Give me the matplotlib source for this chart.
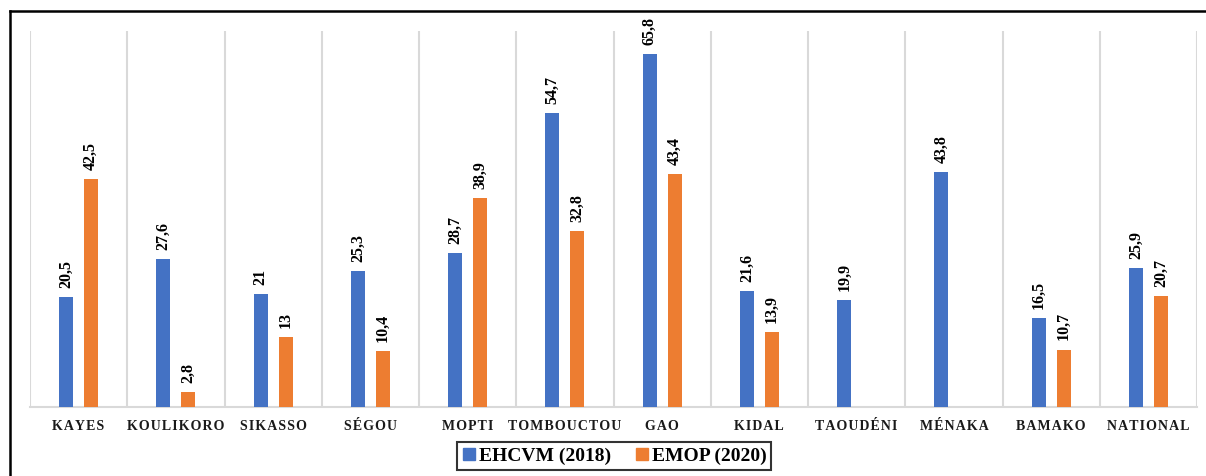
import numpy as np
import matplotlib.pyplot as plt
from matplotlib.lines import Line2D

# Taux par région, deux enquêtes
regions = ['KAYES', 'KOULIKORO', 'SIKASSO', 'SÉGOU', 'MOPTI', 'TOMBOUCTOU',
           'GAO', 'KIDAL', 'TAOUDÉNI', 'MÉNAKA', 'BAMAKO', 'NATIONAL']
ehcvm_2018 = [20.5, 27.6, 21, 25.3, 28.7, 54.7, 65.8, 21.6, 19.9, 43.8, 16.5, 25.9]
emop_2020 = [42.5, 2.8, 13, 10.4, 38.9, 32.8, 43.4, 13.9, None, None, 10.7, 20.7]

blue = '#4472C4'
orange = '#ED7D31'
grid_col = '#d9d9d9'


def fmt(v):
    s = f'{v:g}'
    return s.replace('.', ',')


def spaced(word):
    # petit espacement entre les lettres
    return '\u200a'.join(word)


fig = plt.figure(figsize=(12.06, 4.76), dpi=100)
ax = fig.add_axes([30 / 1206, 1 - 407 / 476, 1167 / 1206, 376 / 476])

x = np.arange(len(regions))
w = 0.145
off = 0.128

for xi, v in zip(x, ehcvm_2018):
    ax.bar(xi - off, v, width=w, color=blue, zorder=3)
    ax.annotate(fmt(v), (xi - off, v), xytext=(0, 6.5), textcoords='offset points',
                rotation=90, ha='center', va='bottom', fontsize=11.5,
                fontweight='bold', family='Liberation Serif')
for xi, v in zip(x, emop_2020):
    if v is None:
        continue
    ax.bar(xi + off, v, width=w, color=orange, zorder=3)
    ax.annotate(fmt(v), (xi + off, v), xytext=(0, 6.5), textcoords='offset points',
                rotation=90, ha='center', va='bottom', fontsize=11.5,
                fontweight='bold', family='Liberation Serif')

ax.set_xlim(-0.5, len(regions) - 0.5)
ax.set_ylim(0, 70)
ax.set_yticks([])
ax.set_xticks(x)
ax.set_xticklabels([spaced(r) for r in regions], fontsize=10, fontweight='bold',
                   family='Liberation Serif', color='#1a1a1a')
ax.tick_params(axis='x', length=0, pad=9)

# lignes verticales entre les catégories
ax.set_xticks(np.arange(-0.5, len(regions)), minor=True)
ax.tick_params(axis='x', which='minor', length=0)
ax.grid(True, axis='x', which='minor', color=grid_col, linewidth=1.5, zorder=0)
ax.grid(False, axis='x', which='major')

for side in ['top', 'left', 'right']:
    ax.spines[side].set_visible(False)
ax.spines['bottom'].set_color(grid_col)
ax.spines['bottom'].set_linewidth(1.5)

# cadre extérieur
fig.add_artist(Line2D([10 / 1206, 1.0], [1 - 11 / 476, 1 - 11 / 476],
                      transform=fig.transFigure, color='black', linewidth=1.8))
fig.add_artist(Line2D([10 / 1206, 10 / 1206], [0, 1 - 11 / 476],
                      transform=fig.transFigure, color='black', linewidth=1.8))

handles = [Line2D([], [], marker='s', linestyle='', markersize=8, color=blue),
           Line2D([], [], marker='s', linestyle='', markersize=8, color=orange)]
leg = fig.legend(handles, ['EHCVM (2018)', 'EMOP (2020)'], loc='center',
                 bbox_to_anchor=(614 / 1206, 1 - 456 / 476), ncol=2,
                 prop={'family': 'Liberation Serif', 'weight': 'bold', 'size': 14},
                 frameon=True, fancybox=False, handletextpad=0.1,
                 columnspacing=1.2, borderpad=0.25, handlelength=0.8)
leg.get_frame().set_edgecolor('black')
leg.get_frame().set_linewidth(1.5)

fig.savefig('out.png', dpi=100)
